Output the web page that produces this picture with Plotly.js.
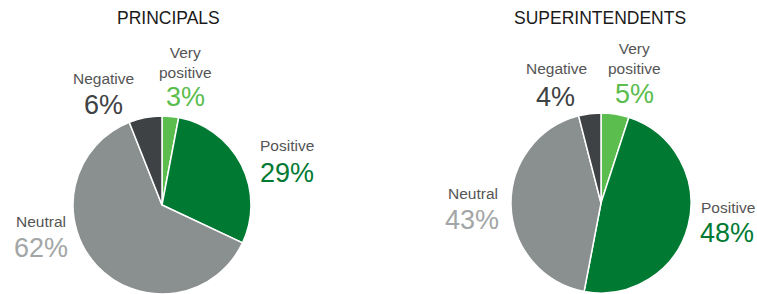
<!DOCTYPE html>
<html>
<head>
<meta charset="utf-8">
<script src="https://cdn.plot.ly/plotly-3.0.1.min.js"></script>
<style>html,body{margin:0;padding:0;background:#fff;}#chart{width:757px;height:294px;}</style>
</head>
<body>
<div id="chart"></div>
<script>
var categories = ["Very positive", "Positive", "Neutral", "Negative"];
var principalsValues = [3, 29, 62, 6];
var superintendentsValues = [5, 48, 43, 4];
var chartTitles = ["PRINCIPALS", "SUPERINTENDENTS"];
var labelLines = ["Very<br>positive", "Positive", "Neutral", "Negative"];

var sliceColors = ["#5bbd4e", "#007a33", "#8a908f", "#3e4244"];
var pctColors = ["#5bbd4e", "#007a33", "#a3a6a6", "#3e4244"];
var W = 757, H = 294;

function px(x){ return x / W; }
function py(y){ return 1 - y / H; }

function pieTrace(vals, x0, x1, yTop, yBot){
  return {
    type: "pie", values: vals, labels: categories, sort: false,
    direction: "clockwise", rotation: 0, textinfo: "none", hoverinfo: "label+percent",
    marker: {colors: sliceColors, line: {color: "#ffffff", width: 1.5}},
    domain: {x: [px(x0), px(x1)], y: [py(yBot), py(yTop)]},
    showlegend: false
  };
}

var data = [
  pieTrace(principalsValues, 73, 251, 116, 294),
  pieTrace(superintendentsValues, 511, 691, 113, 293)
];

// label positions (pixels): [catX, catY, pctX, pctY, anchor]
var leftPos = [[185, 62, 185, 97, "center"], [258, 145, 258, 173, "left"], [41, 222, 41, 248, "center"], [103, 79, 103, 105, "center"]];
var rightPos = [[634, 58, 634, 94, "center"], [699, 207, 698, 233, "left"], [473, 193, 472, 220, "center"], [556, 68, 555, 97, "center"]];

var annotations = [];
function addLabels(vals, pos){
  for (var i = 0; i < categories.length; i++) {
    var p = pos[i];
    annotations.push({xref: "paper", yref: "paper", x: px(p[0]), y: py(p[1]), xanchor: p[4], yanchor: "middle",
      text: labelLines[i], showarrow: false, align: "center",
      font: {family: "Liberation Sans, Arial, sans-serif", size: 15.5, color: "#555555"}});
    annotations.push({xref: "paper", yref: "paper", x: px(p[2]), y: py(p[3]), xanchor: p[4], yanchor: "middle",
      text: vals[i] + "%", showarrow: false,
      font: {family: "Liberation Sans, Arial, sans-serif", size: 27, color: pctColors[i]}});
  }
}
addLabels(principalsValues, leftPos);
addLabels(superintendentsValues, rightPos);
annotations.push({xref: "paper", yref: "paper", x: px(168), y: py(18), xanchor: "center", yanchor: "middle",
  text: chartTitles[0], showarrow: false, font: {family: "Liberation Sans, Arial, sans-serif", size: 17.5, color: "#1a1a1a"}});
annotations.push({xref: "paper", yref: "paper", x: px(600), y: py(18), xanchor: "center", yanchor: "middle",
  text: chartTitles[1], showarrow: false, font: {family: "Liberation Sans, Arial, sans-serif", size: 17.5, color: "#1a1a1a"}});

var layout = {
  width: W, height: H, margin: {l: 0, r: 0, t: 0, b: 0},
  paper_bgcolor: "#ffffff", plot_bgcolor: "#ffffff",
  showlegend: false, annotations: annotations
};
Plotly.newPlot("chart", data, layout, {displayModeBar: false, staticPlot: true});
</script>
</body>
</html>
